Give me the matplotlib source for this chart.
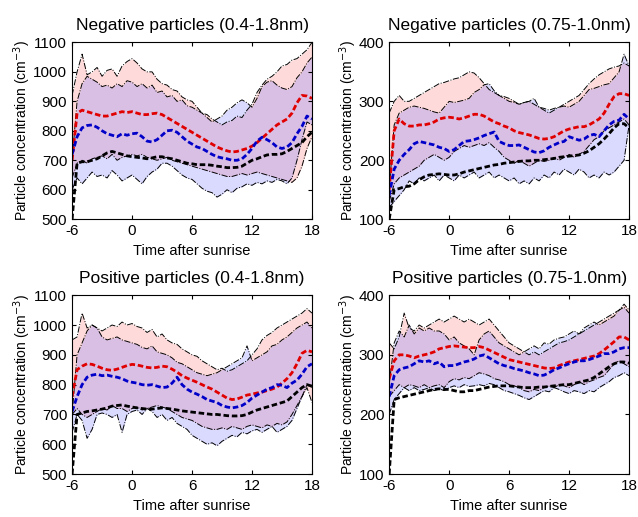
import numpy as np
import matplotlib
matplotlib.use("Agg")
import matplotlib.pyplot as plt

plt.rcParams['font.family'] = ['Liberation Sans', 'DejaVu Sans']
plt.rcParams['axes.unicode_minus'] = False

# Time after sunrise (hours), half-hour steps
hours = np.linspace(-6, 18, 49)

# Negative particles (0.4-1.8nm)
neg_big_red_up = [920, 1000, 1060, 990, 1000, 1015, 985, 1005, 1010, 985, 1020, 1035, 1045, 1030, 1010, 1000, 1000,
                  975, 960, 955, 940, 935, 915, 905, 900, 880, 860, 855, 840, 830, 820, 830, 835, 850, 845, 870,
                  890, 930, 955, 975, 985, 1000, 1020, 1025, 1040, 1045, 1060, 1075, 1100]
neg_big_blue_up = [700, 900, 960, 985, 975, 965, 950, 955, 945, 960, 950, 970, 965, 950, 960, 945, 955, 930, 935,
                   915, 920, 900, 905, 885, 880, 870, 860, 845, 830, 840, 850, 870, 880, 895, 905, 895, 880, 910,
                   950, 965, 970, 955, 945, 940, 950, 980, 1000, 1030, 1050]
neg_big_red_low = [640, 690, 700, 690, 705, 710, 715, 705, 720, 700, 710, 715, 720, 715, 720, 710, 705, 700, 705,
                   710, 700, 695, 690, 685, 680, 675, 670, 665, 660, 655, 650, 645, 645, 650, 655, 650, 655, 660,
                   655, 650, 645, 640, 635, 630, 625, 640, 680, 740, 780]
neg_big_blue_low = [600, 640, 620, 640, 660, 645, 650, 640, 665, 650, 630, 640, 650, 635, 620, 645, 660, 670, 690,
                    690, 680, 665, 650, 640, 635, 620, 605, 595, 590, 575, 585, 600, 590, 605, 610, 620, 615, 625,
                    620, 630, 625, 635, 630, 620, 640, 700, 770, 830, 820]
neg_big_red_med = [700, 860, 870, 865, 860, 855, 850, 850, 855, 860, 865, 862, 865, 860, 855, 855, 858, 860, 855,
                   845, 835, 825, 815, 805, 795, 785, 775, 765, 755, 745, 738, 732, 728, 730, 735, 740, 748, 760,
                   775, 790, 805, 820, 830, 840, 860, 895, 920, 918, 910]
neg_big_blue_med = [720, 780, 810, 818, 820, 812, 800, 790, 785, 780, 790, 785, 790, 792, 780, 765, 762, 770, 785,
                    800, 802, 795, 780, 765, 755, 745, 740, 730, 720, 712, 708, 705, 700, 700, 705, 720, 740, 765,
                    778, 770, 760, 745, 740, 745, 760, 790, 815, 850, 840]
neg_big_black = [500, 690, 695, 695, 700, 705, 715, 725, 730, 725, 720, 715, 712, 710, 708, 705, 708, 712, 712,
                 708, 705, 700, 695, 690, 688, 685, 685, 685, 683, 680, 678, 675, 675, 676, 680, 690, 700, 705,
                 712, 718, 720, 720, 722, 730, 740, 750, 760, 780, 795]

# Negative particles (0.75-1.0nm)
neg_small_red_up = [280, 300, 310, 300, 300, 305, 310, 315, 320, 325, 330, 332, 335, 338, 340, 345, 350, 348, 340,
                    330, 320, 315, 310, 308, 305, 300, 295, 298, 300, 295, 290, 285, 280, 285, 290, 295, 300, 305,
                    310, 320, 330, 338, 345, 350, 355, 358, 360, 365, 360]
neg_small_blue_up = [150, 260, 280, 285, 290, 292, 290, 288, 285, 282, 280, 290, 300, 298, 300, 302, 305, 315, 320,
                     328, 330, 318, 310, 305, 300, 298, 295, 298, 300, 305, 290, 288, 285, 288, 290, 292, 290, 295,
                     300, 310, 320, 322, 325, 328, 330, 340, 350, 380, 360]
neg_small_red_low = [130, 160, 170, 175, 180, 185, 190, 200, 205, 210, 205, 200, 205, 215, 220, 225, 222, 225, 228,
                     225, 230, 222, 215, 205, 200, 195, 200, 195, 190, 195, 200, 198, 200, 205, 200, 205, 210, 205,
                     210, 215, 225, 235, 240, 250, 255, 260, 265, 270, 260]
neg_small_blue_low = [120, 130, 140, 150, 165, 160, 170, 165, 170, 175, 165, 175, 170, 165, 175, 170, 175, 180, 170,
                      175, 180, 170, 175, 170, 165, 170, 160, 165, 160, 170, 165, 175, 170, 180, 175, 185, 180, 175,
                      185, 180, 170, 175, 170, 180, 175, 180, 190, 200, 260]
neg_small_red_med = [150, 250, 270, 262, 258, 258, 260, 260, 262, 265, 270, 272, 273, 272, 270, 272, 275, 278, 278,
                     275, 270, 265, 262, 258, 255, 250, 247, 245, 243, 240, 237, 236, 237, 240, 245, 250, 253, 255,
                     257, 257, 260, 265, 270, 280, 295, 308, 313, 313, 310]
neg_small_blue_med = [140, 185, 200, 210, 218, 228, 232, 230, 228, 226, 222, 220, 215, 218, 225, 232, 233, 235, 238,
                      242, 245, 248, 232, 228, 225, 225, 226, 222, 218, 214, 213, 216, 222, 226, 230, 232, 240, 237,
                      234, 236, 242, 244, 240, 250, 260, 266, 268, 278, 270]
neg_small_black = [100, 150, 152, 155, 156, 160, 167, 172, 175, 176, 177, 176, 175, 175, 177, 180, 182, 184, 186,
                   188, 190, 192, 193, 195, 196, 197, 198, 199, 199, 200, 200, 201, 202, 203, 205, 206, 207, 208,
                   209, 212, 216, 222, 228, 236, 245, 255, 262, 262, 255]

# Positive particles (0.4-1.8nm)
pos_big_red_up = [950, 960, 1040, 990, 1000, 990, 980, 990, 1000, 995, 1010, 1000, 1005, 995, 990, 975, 985, 960,
                  970, 950, 940, 935, 920, 910, 900, 895, 880, 870, 860, 850, 855, 845, 850, 860, 870, 880, 900,
                  920, 950, 965, 975, 990, 1000, 1010, 1020, 1030, 1040, 1055, 1040]
pos_big_blue_up = [700, 900, 940, 980, 1000, 990, 960, 950, 955, 960, 950, 945, 940, 935, 925, 920, 930, 910, 905,
                   900, 890, 875, 870, 860, 850, 840, 835, 830, 835, 840, 850, 860, 870, 880, 890, 930, 880, 890,
                   900, 910, 930, 935, 950, 960, 975, 990, 1000, 1010, 990]
pos_big_red_low = [700, 720, 700, 690, 700, 710, 720, 715, 730, 720, 720, 710, 720, 725, 715, 720, 725, 730, 725,
                   720, 710, 700, 690, 685, 680, 670, 660, 655, 650, 650, 655, 650, 660, 655, 650, 660, 665, 660,
                   655, 665, 660, 670, 665, 675, 700, 730, 760, 790, 740]
pos_big_blue_low = [640, 700, 680, 620, 650, 700, 705, 700, 690, 700, 640, 700, 710, 715, 700, 720, 710, 690, 700,
                    680, 690, 670, 660, 650, 630, 620, 610, 600, 605, 595, 610, 620, 630, 625, 640, 635, 645, 650,
                    640, 650, 660, 640, 650, 660, 680, 720, 760, 800, 790]
pos_big_red_med = [760, 850, 862, 870, 868, 862, 855, 850, 848, 852, 858, 864, 868, 866, 862, 858, 856, 858, 862,
                   860, 852, 842, 830, 822, 815, 808, 800, 792, 785, 775, 765, 755, 750, 752, 758, 765, 768, 772,
                   775, 780, 785, 792, 805, 820, 840, 870, 905, 915, 910]
pos_big_blue_med = [710, 760, 800, 825, 832, 835, 830, 832, 828, 825, 820, 812, 808, 805, 800, 798, 800, 795, 790,
                    792, 805, 825, 800, 785, 775, 768, 760, 750, 745, 740, 730, 725, 722, 725, 730, 740, 755, 765,
                    775, 785, 790, 800, 798, 790, 805, 815, 835, 860, 870]
pos_big_black = [500, 700, 705, 710, 712, 715, 718, 722, 728, 730, 732, 728, 725, 722, 720, 718, 718, 720, 722,
                 720, 718, 715, 712, 710, 708, 706, 704, 702, 700, 700, 698, 696, 695, 695, 696, 700, 708, 715,
                 720, 725, 730, 735, 740, 745, 760, 775, 790, 800, 795]

# Positive particles (0.75-1.0nm)
pos_small_red_up = [320, 310, 330, 370, 345, 340, 350, 345, 350, 355, 360, 355, 360, 365, 360, 355, 360, 355, 350,
                    355, 360, 350, 340, 330, 320, 315, 310, 305, 300, 305, 300, 305, 310, 315, 320, 322, 325, 330,
                    335, 340, 345, 350, 355, 360, 365, 370, 375, 385, 375]
pos_small_blue_up = [250, 320, 340, 330, 350, 335, 345, 340, 345, 340, 340, 335, 325, 330, 320, 315, 310, 300, 325,
                     335, 340, 330, 320, 315, 310, 305, 300, 305, 310, 315, 310, 320, 318, 325, 328, 330, 335, 340,
                     335, 345, 350, 355, 350, 355, 360, 365, 375, 380, 370]
pos_small_red_low = [230, 240, 250, 245, 250, 248, 245, 250, 245, 248, 250, 245, 255, 260, 258, 262, 260, 265, 270,
                     268, 265, 260, 258, 255, 250, 248, 245, 240, 238, 242, 240, 245, 248, 245, 250, 248, 245, 250,
                     255, 250, 255, 258, 262, 265, 275, 285, 290, 285, 280]
pos_small_blue_low = [200, 225, 235, 245, 240, 245, 240, 242, 245, 240, 243, 240, 245, 248, 245, 250, 247, 248, 250,
                      248, 252, 250, 245, 240, 238, 235, 232, 228, 225, 230, 235, 240, 238, 245, 242, 238, 235, 240,
                      238, 235, 240, 238, 245, 250, 255, 262, 265, 270, 265]
pos_small_red_med = [260, 290, 300, 300, 298, 295, 298, 300, 302, 305, 310, 312, 314, 315, 314, 313, 312, 312, 314,
                     312, 308, 304, 300, 296, 292, 290, 288, 286, 284, 282, 280, 278, 277, 278, 282, 285, 288, 290,
                     292, 294, 296, 298, 302, 308, 315, 322, 330, 330, 325]
pos_small_blue_med = [230, 265, 275, 278, 280, 285, 290, 288, 290, 285, 288, 280, 282, 282, 285, 288, 290, 293, 298,
                      300, 295, 290, 285, 282, 280, 277, 275, 273, 270, 268, 265, 266, 270, 275, 278, 282, 285, 288,
                      290, 290, 292, 295, 298, 302, 302, 305, 310, 312, 312]
pos_small_black = [100, 225, 228, 230, 232, 234, 236, 238, 240, 242, 243, 242, 242, 240, 238, 238, 240, 240, 242,
                   244, 246, 247, 248, 248, 248, 247, 246, 245, 245, 245, 246, 246, 247, 248, 249, 250, 250, 252,
                   254, 256, 258, 262, 268, 274, 280, 285, 288, 288, 286]

titles = ['Negative particles (0.4-1.8nm)', 'Negative particles (0.75-1.0nm)',
          'Positive particles (0.4-1.8nm)', 'Positive particles (0.75-1.0nm)']
ylims = [(500, 1100), (100, 400), (500, 1100), (100, 400)]
yticks = [np.arange(500, 1101, 100), [100, 200, 300, 400], np.arange(500, 1101, 100), [100, 200, 300, 400]]

panels = [
    (neg_big_red_up, neg_big_red_low, neg_big_blue_up, neg_big_blue_low, neg_big_red_med, neg_big_blue_med, neg_big_black),
    (neg_small_red_up, neg_small_red_low, neg_small_blue_up, neg_small_blue_low, neg_small_red_med, neg_small_blue_med, neg_small_black),
    (pos_big_red_up, pos_big_red_low, pos_big_blue_up, pos_big_blue_low, pos_big_red_med, pos_big_blue_med, pos_big_black),
    (pos_small_red_up, pos_small_red_low, pos_small_blue_up, pos_small_blue_low, pos_small_red_med, pos_small_blue_med, pos_small_black),
]

positions = [[0.113, 0.576, 0.376, 0.342], [0.610, 0.576, 0.376, 0.342],
             [0.113, 0.083, 0.376, 0.346], [0.610, 0.083, 0.376, 0.346]]

fig = plt.figure(figsize=(6.38, 5.17), dpi=100)

for pos, title, ylim, yt, data in zip(positions, titles, ylims, yticks, panels):
    red_up, red_low, blue_up, blue_low, red_med, blue_med, black = data
    ax = fig.add_axes(pos)
    ax.fill_between(hours, red_low, red_up, color='#ff7a7a', alpha=0.28, lw=0)
    ax.fill_between(hours, blue_low, blue_up, color='#7a7aff', alpha=0.28, lw=0)
    for edge in (red_up, red_low, blue_up, blue_low):
        ax.plot(hours, edge, color='k', lw=0.7, ls='-.')
    ax.plot(hours, red_med, color='#e00000', lw=2, ls=(0, (2, 1)))
    ax.plot(hours, blue_med, color='#0000c8', lw=2, ls=(0, (2, 1)))
    ax.plot(hours, black, color='k', lw=2, ls=(0, (2, 1)))

    ax.set_xlim(-6, 18)
    ax.set_ylim(*ylim)
    ax.set_xticks([-6, 0, 6, 12, 18])
    ax.set_yticks(yt)
    ax.tick_params(direction='in', top=True, right=True, labelsize=11, length=3)
    ax.set_title(title, fontsize=12.5, pad=9)
    ax.set_xlabel('Time after sunrise', fontsize=10.5, labelpad=4)
    ax.set_ylabel('Particle concentration (cm$^{-3}$)', fontsize=10, labelpad=0)

fig.savefig('out.png', dpi=100)
